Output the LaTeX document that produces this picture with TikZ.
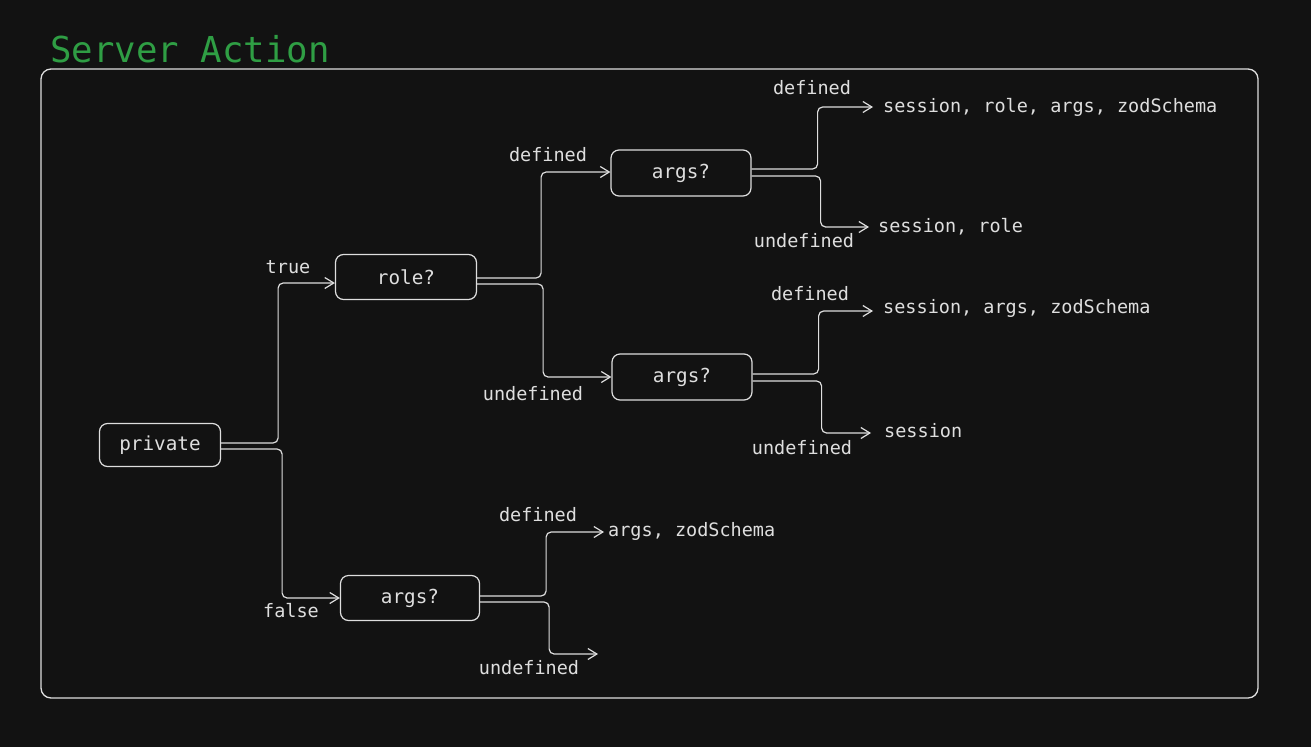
\documentclass[tikz,border=0pt]{standalone}
\usepackage{fontspec}
\setmonofont{DejaVu Sans Mono}
\usetikzlibrary{arrows.meta}
\definecolor{bgc}{HTML}{121212}
\definecolor{ink}{HTML}{DEDEDE}
\definecolor{titlegreen}{HTML}{2F9E44}
\tikzset{
  box/.style={draw=ink, line width=1.2pt, rounded corners=8pt, text=ink,
    minimum width=140pt, minimum height=45pt, inner sep=0pt,
    font=\ttfamily\fontsize{19.3}{22}\selectfont},
  conn/.style={draw=ink, line width=1.2pt, rounded corners=5pt,
    -{Straight Barb[length=9pt,width=11pt,line width=1.2pt]}},
  lbl/.style={text=ink, inner sep=0pt, font=\ttfamily\fontsize{18.5}{21}\selectfont},
  res/.style={text=ink, inner sep=0pt, anchor=base west, font=\ttfamily\fontsize{18.5}{21}\selectfont},
}
\begin{document}
\begin{tikzpicture}[x=1pt,y=-1pt]
\fill[bgc] (0,0) rectangle (1311,747);
\useasboundingbox (0,0) rectangle (1311,747);

% title and frame
\node[anchor=base west, inner sep=0pt, text=titlegreen,
  font=\ttfamily\fontsize{35.7}{40}\selectfont] (title) at (50,62) {Server Action};
\draw[ink, line width=1.3pt, rounded corners=10pt] (41,69) rectangle (1258,698);

% decision nodes
\node[box, minimum width=121pt, minimum height=43pt] (private) at (160,445) {private};
\node[box, minimum width=141pt] (role) at (406,277) {role?};
\node[box, minimum height=46pt] (argsT) at (681,173) {args?};
\node[box, minimum height=46pt] (argsM) at (682,377) {args?};
\node[box, minimum width=139pt] (argsB) at (410,598) {args?};

% arrow end points
\coordinate (r1) at (873,107);
\coordinate (r2) at (869,227);
\coordinate (r3) at (873,311);
\coordinate (r4) at (871,433);
\coordinate (r5) at (604,532);
\coordinate (r6) at (598,654);

% connectors
\draw[conn] ([yshift=2pt]private.east) -- ++(57,0) |- ([yshift=-6pt]role.west);
\draw[conn] ([yshift=-4pt]private.east) -- ++(61,0) |- (argsB.west);
\draw[conn] ([yshift=-1pt]role.east) -- ++(64,0) |- ([yshift=1pt]argsT.west);
\draw[conn] ([yshift=-7pt]role.east) -- ++(66,0) |- (argsM.west);
\draw[conn] ([yshift=4pt]argsT.east) -- ++(66,0) |- (r1);
\draw[conn] ([yshift=-3pt]argsT.east) -- ++(69,0) |- (r2);
\draw[conn] ([yshift=3pt]argsM.east) -- ++(66,0) |- (r3);
\draw[conn] ([yshift=-4pt]argsM.east) -- ++(69,0) |- (r4);
\draw[conn] ([yshift=2pt]argsB.east) -- ++(66,0) |- (r5);
\draw[conn] ([yshift=-4pt]argsB.east) -- ++(69,0) |- (r6);

% edge labels
\node[lbl] (ltrue) at (288,267) {true};
\node[lbl] (lfalse) at (291,611) {false};
\node[lbl] (ld1) at (548,155) {defined};
\node[lbl] (lu1) at (533,394) {undefined};
\node[lbl] (ld2) at (812,88) {defined};
\node[lbl] (lu2) at (804,241) {undefined};
\node[lbl] (ld3) at (810,294) {defined};
\node[lbl] (lu3) at (802,448) {undefined};
\node[lbl] (ld4) at (538,515) {defined};
\node[lbl] (lu4) at (529,668) {undefined};

% results
\node[res] (o1) at (883,112) {session, role, args, zodSchema};
\node[res] (o2) at (878,232) {session, role};
\node[res] (o3) at (883,313) {session, args, zodSchema};
\node[res] (o4) at (884,437) {session};
\node[res] (o5) at (608,536) {args, zodSchema};
\end{tikzpicture}
\end{document}
